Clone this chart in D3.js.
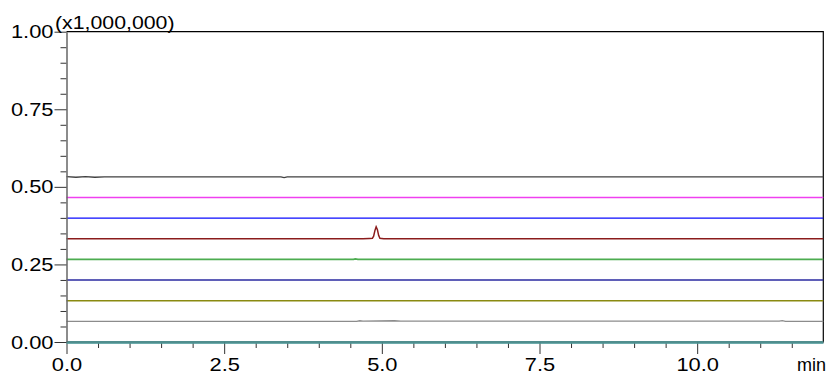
<!DOCTYPE html>
<html>
<head>
<meta charset="utf-8">
<script src="https://cdn.jsdelivr.net/npm/d3@7"></script>
<style>
  body { margin: 0; background: #fff; }
  text { font-family: "Liberation Sans", Arial, sans-serif; fill: #000; }
</style>
</head>
<body>
<div id="chart"></div>
<script>
// axis ticks
const xMajor = [0, 2.5, 5, 7.5, 10];
const xMinor = [0.5, 1, 1.5, 2, 3, 3.5, 4, 4.5, 5.5, 6, 6.5, 7, 8, 8.5, 9, 9.5, 10.5, 11, 11.5];
const yMajor = [0, 0.25, 0.5, 0.75, 1.0];
const yMinor = [0.05, 0.1, 0.15, 0.2, 0.3, 0.35, 0.4, 0.45, 0.55, 0.6, 0.65, 0.7, 0.8, 0.85, 0.9, 0.95];

// traces, [time (min), intensity (x1,000,000)]
const traceBlack = [[0, 0.533], [0.15, 0.531], [0.3, 0.533], [0.45, 0.531], [0.6, 0.532], [3.4, 0.532], [3.45, 0.530], [3.5, 0.532], [12, 0.532]];
const traceMagenta = [[0, 0.4655], [12, 0.4655]];
const traceBlue = [[0, 0.399], [12, 0.399]];
const traceBrown = [[0, 0.3325], [4.7, 0.3325], [4.8, 0.3335], [4.85, 0.334], [4.87, 0.341], [4.89, 0.359], [4.91, 0.371], [4.93, 0.362], [4.95, 0.343], [4.97, 0.334], [5.03, 0.333], [12, 0.3325]];
const traceGreen = [[0, 0.266], [4.55, 0.266], [4.58, 0.268], [4.62, 0.266], [12, 0.266]];
const traceNavy = [[0, 0.1995], [12, 0.1995]];
const traceOlive = [[0, 0.133], [12, 0.133]];
const traceGray = [[0, 0.0665], [4.6, 0.0665], [4.65, 0.0685], [4.7, 0.067], [5.2, 0.0685], [5.3, 0.067], [11.3, 0.067], [11.35, 0.069], [11.4, 0.0665], [12, 0.0665]];
const traceTeal = [[0, 0.0], [12, 0.0]];

const traces = [
  { data: traceTeal, color: "#4a9c9c", w: 2 },
  { data: traceGray, color: "#8c8c8c", w: 1.3 },
  { data: traceOlive, color: "#8a8a10", w: 1.3 },
  { data: traceNavy, color: "#2a2aa0", w: 1.5 },
  { data: traceGreen, color: "#4cac50", w: 1.8 },
  { data: traceBrown, color: "#8b1c1c", w: 1.5 },
  { data: traceBlue, color: "#0a0aff", w: 1.3 },
  { data: traceMagenta, color: "#f040f0", w: 1.5 },
  { data: traceBlack, color: "#404040", w: 1.3 }
];

const W = 832, H = 374;
const MARGIN = { TOP: 31.7, BOTTOM: 32, LEFT: 66.5, RIGHT: 8.7 };
const STRETCH = 1.15;

const svg = d3.select("#chart").append("svg")
  .attr("width", W).attr("height", H);
svg.append("rect").attr("width", W).attr("height", H).attr("fill", "#fff");

const x = d3.scaleLinear().domain([0, 12]).range([MARGIN.LEFT, W - MARGIN.RIGHT]);
const y = d3.scaleLinear().domain([0, 1]).range([H - MARGIN.BOTTOM, MARGIN.TOP]);

function stretch(sel, k = STRETCH) {
  sel.each(function () {
    const len = this.getComputedTextLength();
    d3.select(this).attr("textLength", len * k).attr("lengthAdjust", "spacingAndGlyphs");
  });
}

// frame top + right
svg.append("path")
  .attr("d", `M${x(0)},${y(1)}H${x(12)}V${y(0)}`)
  .attr("fill", "none").attr("stroke", "#000").attr("stroke-width", 1.2);

// traces
const line = d3.line().x(d => x(d[0])).y(d => y(d[1]));
svg.selectAll("path.trace").data(traces).enter().append("path")
  .attr("class", "trace")
  .attr("fill", "none")
  .attr("stroke", d => d.color)
  .attr("stroke-width", d => d.w)
  .attr("d", d => line(d.data));

// x axis
const gx = svg.append("g").attr("transform", `translate(0,${y(0)})`);
gx.call(d3.axisBottom(x).tickValues(xMinor).tickSize(6).tickSizeOuter(0).tickFormat(""));
gx.call(g => g.select(".domain").remove());
const gx2 = svg.append("g").attr("transform", `translate(0,${y(0)})`);
gx2.call(d3.axisBottom(x).tickValues(xMajor).tickSize(12).tickSizeOuter(0).tickPadding(4).tickFormat(d3.format(".1f")));
gx2.select(".domain").attr("stroke", "#666").attr("stroke-width", 1.5);
gx2.selectAll("text").attr("font-size", 19).attr("font-family", null).call(stretch);

// y axis
const gy = svg.append("g").attr("transform", `translate(${x(0)},0)`);
gy.call(d3.axisLeft(y).tickValues(yMinor).tickSize(6).tickSizeOuter(0).tickFormat(""));
gy.call(g => g.select(".domain").remove());
const gy2 = svg.append("g").attr("transform", `translate(${x(0)},0)`);
gy2.call(d3.axisLeft(y).tickValues(yMajor).tickSize(12).tickSizeOuter(0).tickPadding(1).tickFormat(d3.format(".2f")));
gy2.select(".domain").attr("stroke", "#666").attr("stroke-width", 1.5);
svg.selectAll(".tick line").attr("stroke", "#333");
gy2.selectAll("text").attr("font-size", 19).attr("font-family", null).call(stretch);

// redraw teal baseline over axis line
svg.append("path")
  .attr("fill", "none").attr("stroke", "#4a9c9c").attr("stroke-width", 1.5)
  .attr("d", line(traceTeal)).attr("transform", "translate(0,1)");

// unit labels
svg.append("text").attr("x", 55).attr("y", 29).attr("font-size", 19)
  .text("(x1,000,000)").call(stretch, 1.12);
svg.append("text").attr("x", 826).attr("y", 371).attr("font-size", 18)
  .attr("text-anchor", "end").text("min");
</script>
</body>
</html>
